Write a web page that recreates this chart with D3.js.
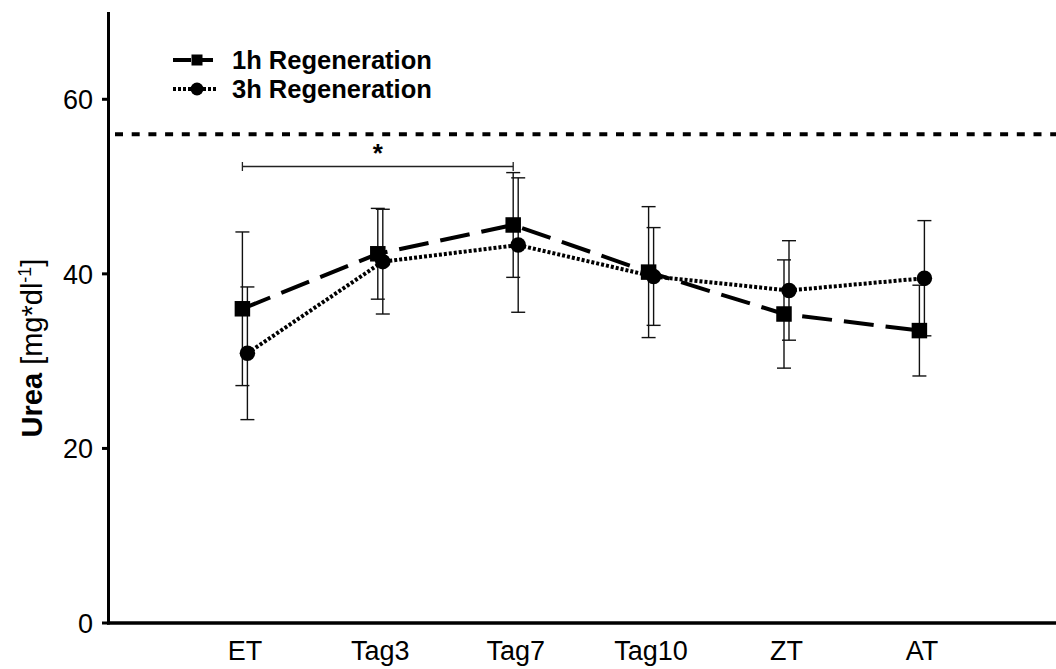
<!DOCTYPE html>
<html>
<head>
<meta charset="utf-8">
<script src="https://cdn.jsdelivr.net/npm/d3@7"></script>
<style>
  html, body { margin: 0; padding: 0; background: #fff; }
  svg { display: block; font-family: "Liberation Sans", Arial, sans-serif; }
</style>
</head>
<body>
<svg id="chart" width="1056" height="669"></svg>
<script>
// Time points of the study
const categories = ["ET", "Tag3", "Tag7", "Tag10", "ZT", "AT"];

// Urea means and standard deviations [mg*dl^-1]
const regen1hMean = [36.0, 42.3, 45.6, 40.2, 35.4, 33.5];
const regen1hSD   = [8.8, 5.2, 6.0, 7.5, 6.2, 5.2];
const regen3hMean = [30.9, 41.4, 43.3, 39.7, 38.1, 39.5];
const regen3hSD   = [7.6, 6.0, 7.7, 5.6, 5.7, 6.6];

// Upper reference value and the significant comparison
const referenceValue = 56;
const sigPair = ["ET", "Tag7"];
const sigLevel = 52.3;

const yTicks = [0, 20, 40, 60];

const series = [
  { name: "1h Regeneration", mean: regen1hMean, sd: regen1hSD, symbol: "square", dash: "30,12", dodge: 0 },
  { name: "3h Regeneration", mean: regen3hMean, sd: regen3hSD, symbol: "circle", dash: "3,2", dodge: 5 }
];

const svg = d3.select("#chart");

const originX = 107;
const step = 135.4;
// position index: -1 is the y axis, categories sit at 0..5
const x = d3.scaleLinear().domain([-1, 6]).range([originX, originX + 7 * step]);
const y = d3.scaleLinear().domain([0, 70]).range([623, 12]);
const catIndex = c => categories.indexOf(c);

// reference line
svg.append("line")
  .attr("x1", originX + 8).attr("x2", 1056)
  .attr("y1", y(referenceValue)).attr("y2", y(referenceValue))
  .attr("stroke", "#000").attr("stroke-width", 4)
  .attr("stroke-dasharray", "8,8.7");

// significance bracket
const sx1 = x(catIndex(sigPair[0])), sx2 = x(catIndex(sigPair[1]));
const sy = y(sigLevel);
const bracket = svg.append("g").attr("stroke", "#222").attr("stroke-width", 1.3);
bracket.append("line").attr("x1", sx1).attr("x2", sx2).attr("y1", sy).attr("y2", sy);
bracket.append("line").attr("x1", sx1).attr("x2", sx1).attr("y1", sy - 4.5).attr("y2", sy + 4.5);
bracket.append("line").attr("x1", sx2).attr("x2", sx2).attr("y1", sy - 4.5).attr("y2", sy + 4.5);
svg.append("text")
  .attr("x", (sx1 + sx2) / 2).attr("y", sy - 4)
  .attr("text-anchor", "middle")
  .attr("font-size", 26).attr("font-weight", "bold")
  .text("*");

// error bars
series.forEach(s => {
  const g = svg.append("g").attr("stroke", "#111").attr("stroke-width", 1.4);
  categories.forEach((c, i) => {
    const cx = x(i) + s.dodge;
    const hi = y(s.mean[i] + s.sd[i]), lo = y(s.mean[i] - s.sd[i]);
    g.append("line").attr("x1", cx).attr("x2", cx).attr("y1", hi).attr("y2", lo);
    g.append("line").attr("x1", cx - 7).attr("x2", cx + 7).attr("y1", hi).attr("y2", hi);
    g.append("line").attr("x1", cx - 7).attr("x2", cx + 7).attr("y1", lo).attr("y2", lo);
  });
});

// series lines
series.forEach(s => {
  const line = d3.line().x((d, i) => x(i) + s.dodge).y(d => y(d));
  svg.append("path")
    .datum(s.mean)
    .attr("d", line)
    .attr("fill", "none")
    .attr("stroke", "#000")
    .attr("stroke-width", 4)
    .attr("stroke-dasharray", s.dash);
});

// markers
function drawSymbol(sel, kind, cx, cy, size) {
  if (kind === "square") {
    sel.append("rect")
      .attr("x", cx - size / 2).attr("y", cy - size / 2)
      .attr("width", size).attr("height", size)
      .attr("fill", "#000");
  } else {
    sel.append("circle")
      .attr("cx", cx).attr("cy", cy).attr("r", size / 2)
      .attr("fill", "#000");
  }
}
series.forEach(s => {
  const g = svg.append("g");
  s.mean.forEach((v, i) => drawSymbol(g, s.symbol, x(i) + s.dodge, y(v), 15.5));
});

// y axis
const yAxis = svg.append("g");
yAxis.append("line")
  .attr("x1", originX + 1.5).attr("x2", originX + 1.5)
  .attr("y1", y(70)).attr("y2", y(0) + 1.5)
  .attr("stroke", "#000").attr("stroke-width", 3);
yTicks.forEach(t => {
  yAxis.append("line")
    .attr("x1", originX - 5).attr("x2", originX + 1.5)
    .attr("y1", y(t)).attr("y2", y(t))
    .attr("stroke", "#000").attr("stroke-width", 3);
  yAxis.append("text")
    .attr("x", originX - 14).attr("y", y(t))
    .attr("dy", "0.36em")
    .attr("text-anchor", "end")
    .attr("font-size", 27)
    .text(t);
});

// x axis
const xAxis = svg.append("g");
xAxis.append("line")
  .attr("x1", originX).attr("x2", 1056)
  .attr("y1", y(0)).attr("y2", y(0))
  .attr("stroke", "#000").attr("stroke-width", 3.5);
categories.forEach((c, i) => {
  xAxis.append("text")
    .attr("x", x(i) + 2.5).attr("y", 660)
    .attr("text-anchor", "middle")
    .attr("font-size", 27)
    .text(c);
});

// y axis title
const title = svg.append("text")
  .attr("transform", `translate(42, 348) rotate(-90)`)
  .attr("text-anchor", "middle")
  .attr("font-size", 29);
title.append("tspan").attr("font-weight", "bold").text("Urea");
title.append("tspan").text(" [mg*dl");
title.append("tspan").attr("font-size", 18).attr("dy", -11).text("-1");
title.append("tspan").attr("dy", 11).text("]");

// legend
const legend = svg.append("g");
const legendRows = [60, 89];
series.forEach((s, k) => {
  const ly = legendRows[k];
  legend.append("line")
    .attr("x1", 173).attr("x2", 218)
    .attr("y1", ly).attr("y2", ly)
    .attr("stroke", "#000").attr("stroke-width", 4)
    .attr("stroke-dasharray", k === 0 ? "18,5,17,5" : "3,2");
  drawSymbol(legend, s.symbol, 197, ly, s.symbol === "square" ? 11 : 13);
  legend.append("text")
    .attr("x", 232).attr("y", ly)
    .attr("dy", "0.36em")
    .attr("font-size", 25.5).attr("font-weight", "bold")
    .text(s.name);
});
</script>
</body>
</html>
